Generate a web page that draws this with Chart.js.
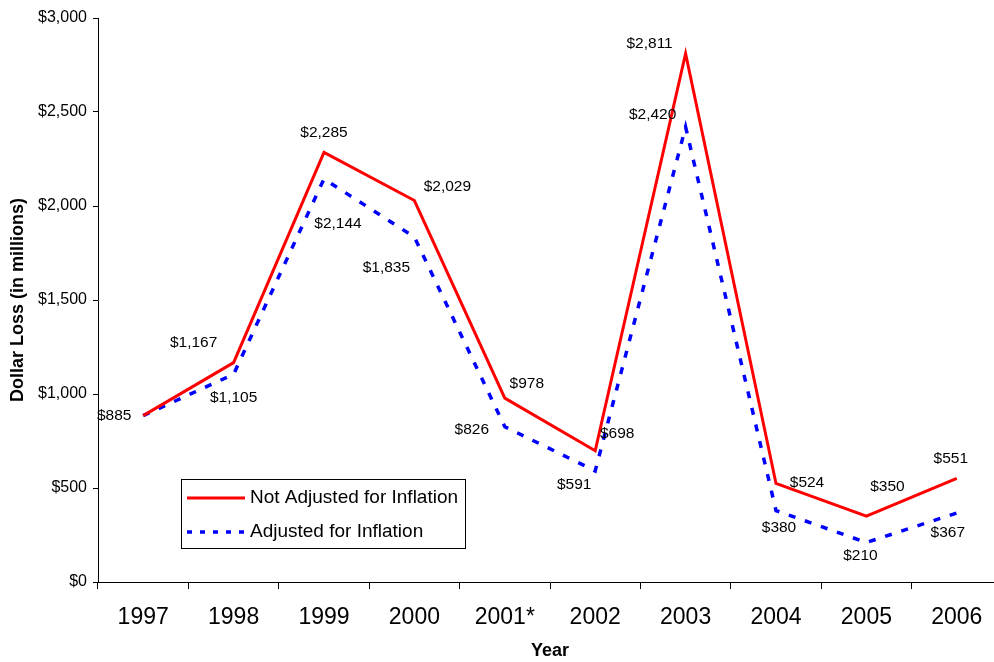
<!DOCTYPE html>
<html>
<head>
<meta charset="utf-8">
<script src="https://cdn.jsdelivr.net/npm/chart.js@4"></script>
<style>
  html, body { margin: 0; padding: 0; background: #fff; overflow: hidden; }
  #wrap { width: 994px; height: 662px; overflow: hidden; }
</style>
</head>
<body>
<div id="wrap"><canvas id="lossChart" width="1002" height="662"></canvas></div>
<script>
const years = ['1997', '1998', '1999', '2000', '2001*', '2002', '2003', '2004', '2005', '2006'];
const notAdjusted = [885, 1167, 2285, 2029, 978, 698, 2811, 524, 350, 551];
const adjusted = [885, 1105, 2144, 1835, 826, 591, 2420, 380, 210, 367];

// where each value label sits relative to its point (dx, dy in px); null = no label
const redLabelOffsets = [[-29, 0], [-40, -20], [0, -20], [33, -14], [22, -14], [22, -17], [-36, -10], [31, -1], [21, -29], [-6, -20]];
const blueLabelOffsets = [null, [0, 23], [14, 45], [-28, 31], [-33, 3], [-21, 14], [-33, -12], [3, 17], [-6, 13], [-9, 20]];

const FONT = '"Liberation Sans", Arial, sans-serif';
const money = v => '$' + v.toLocaleString('en-US');

const valueLabels = {
  id: 'valueLabels',
  afterDatasetsDraw(chart) {
    const ctx = chart.ctx;
    ctx.save();
    ctx.font = '15.5px ' + FONT;
    ctx.fillStyle = '#000';
    ctx.textAlign = 'center';
    ctx.textBaseline = 'middle';
    chart.data.datasets.forEach((ds, i) => {
      const offs = i === 0 ? redLabelOffsets : blueLabelOffsets;
      chart.getDatasetMeta(i).data.forEach((pt, j) => {
        if (!offs[j]) return;
        ctx.fillText(money(ds.data[j]), pt.x + offs[j][0], pt.y + offs[j][1]);
      });
    });
    ctx.restore();
  }
};

const boxLegend = {
  id: 'boxLegend',
  afterDraw(chart) {
    const ctx = chart.ctx;
    const x = 181, y = 479, w = 284, h = 69;
    ctx.save();
    ctx.fillStyle = '#fff';
    ctx.fillRect(x, y, w, h);
    ctx.strokeStyle = '#000';
    ctx.lineWidth = 1;
    ctx.strokeRect(x + 0.5, y + 0.5, w, h);
    ctx.font = '19px ' + FONT;
    ctx.fillStyle = '#000';
    ctx.textBaseline = 'middle';
    chart.data.datasets.forEach((ds, i) => {
      const ly = y + 19 + i * 34;
      ctx.beginPath();
      ctx.strokeStyle = ds.borderColor;
      ctx.lineWidth = ds.borderWidth;
      ctx.setLineDash(i === 1 ? [5, 8] : []);
      ctx.moveTo(x + 6, ly);
      ctx.lineTo(x + 64, ly);
      ctx.stroke();
      ctx.setLineDash([]);
      ctx.fillText(ds.label, x + 69, ly);
    });
    ctx.restore();
  }
};

new Chart(document.getElementById('lossChart').getContext('2d'), {
  type: 'line',
  data: {
    labels: years,
    datasets: [
      {
        label: 'Not Adjusted for Inflation',
        data: notAdjusted,
        borderColor: '#ff0000',
        borderWidth: 3,
        pointRadius: 0,
        tension: 0,
        fill: false
      },
      {
        label: 'Adjusted for Inflation',
        data: adjusted,
        borderColor: '#0000ff',
        borderWidth: 3.5,
        borderDash: [7, 10],
        pointRadius: 0,
        tension: 0,
        fill: false
      }
    ]
  },
  options: {
    responsive: false,
    animation: false,
    layout: { padding: { left: 0, right: 0, top: 18, bottom: 0 } },
    plugins: {
      legend: { display: false },
      tooltip: { enabled: false }
    },
    scales: {
      x: {
        type: 'category',
        offset: true,
        grid: {
          offset: true,
          drawOnChartArea: false,
          drawTicks: true,
          tickLength: 7,
          tickColor: '#000'
        },
        border: { color: '#000', width: 1 },
        ticks: {
          color: '#000',
          padding: 15,
          maxRotation: 0,
          autoSkip: false,
          font: { family: FONT, size: 23 }
        },
        title: {
          display: true,
          text: 'Year',
          color: '#000',
          padding: { top: 0, bottom: 0 },
          font: { family: FONT, size: 18, weight: 'bold' }
        },
        afterFit(s) { s.height = 80; }
      },
      y: {
        min: 0,
        max: 3000,
        grid: {
          drawOnChartArea: false,
          drawTicks: true,
          tickLength: 5,
          tickColor: '#000'
        },
        border: { color: '#000', width: 1 },
        ticks: {
          stepSize: 500,
          color: '#000',
          padding: 6,
          font: { family: FONT, size: 16 },
          callback: v => money(v)
        },
        title: {
          display: true,
          text: 'Dollar Loss (in millions)',
          color: '#000',
          padding: { top: 7, bottom: 0 },
          font: { family: FONT, size: 18, weight: 'bold' }
        },
        afterFit(s) { s.width = 98; }
      }
    }
  },
  plugins: [valueLabels, boxLegend]
});
</script>
</body>
</html>
